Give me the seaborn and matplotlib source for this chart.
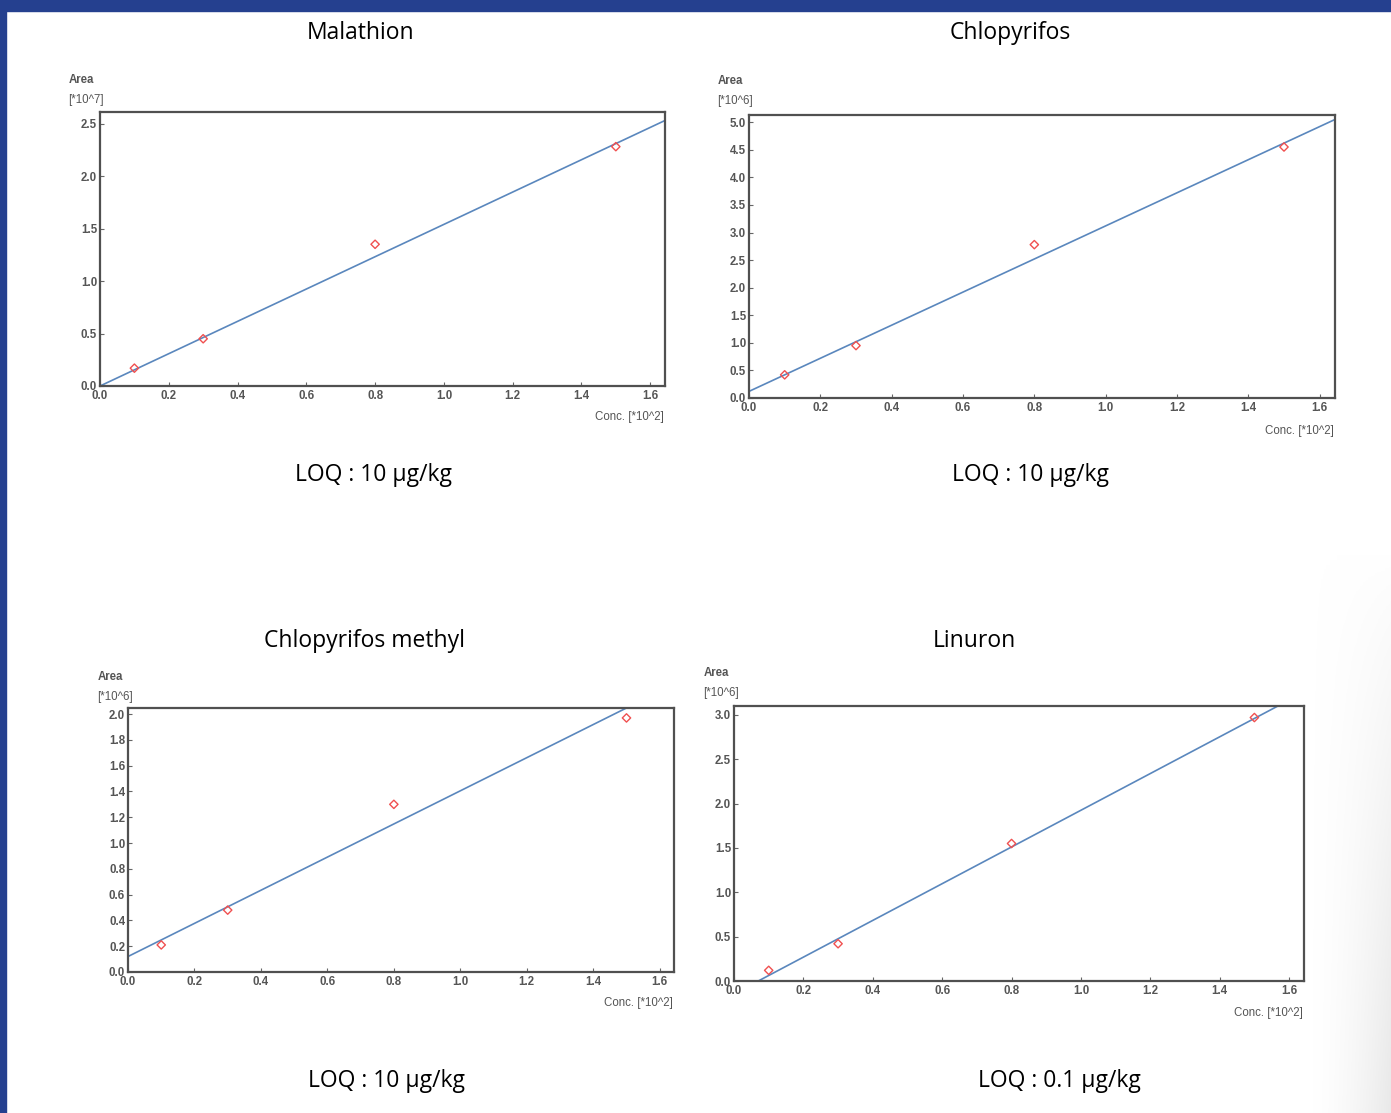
import numpy as np
import pandas as pd
import seaborn as sns
import matplotlib
matplotlib.use("Agg")
import matplotlib.pyplot as plt
from matplotlib.patches import Rectangle
from matplotlib.colors import LinearSegmentedColormap

sns.set_style("ticks")
plt.rcParams['font.family'] = ['Open Sans', 'DejaVu Sans']

W, H = 1391, 1113

# data (conc in 10^2, area in the scale shown)
conc = [0.1, 0.3, 0.8, 1.5]
mal_area = [0.17, 0.45, 1.35, 2.28]
chl_area = [0.42, 0.95, 2.78, 4.55]
chm_area = [0.21, 0.48, 1.30, 1.97]
lin_area = [0.12, 0.42, 1.55, 2.97]

# calibration line end points
mal_fit_x, mal_fit_y = [0.0, 1.65], [0.0, 2.54]
chl_fit_x, chl_fit_y = [0.0, 1.65], [0.12, 5.07]
chm_fit_x, chm_fit_y = [0.0, 1.65], [0.12, 2.24]
lin_fit_x, lin_fit_y = [0.07, 1.65], [0.0, 3.27]

titles = ["Malathion", "Chlopyrifos", "Chlopyrifos methyl", "Linuron"]
loq = ["LOQ : 10 µg/kg", "LOQ : 10 µg/kg", "LOQ : 10 µg/kg", "LOQ : 0.1 µg/kg"]
y_units = ["[*10^7]", "[*10^6]", "[*10^6]", "[*10^6]"]
y_ticks = [np.arange(0, 2.51, 0.5), np.arange(0, 5.01, 0.5),
           np.arange(0, 2.01, 0.2), np.arange(0, 3.01, 0.5)]
x_ticks = np.arange(0, 1.61, 0.2)

panels = [
    dict(box=(100, 112, 665, 386), ylim=2.61, pts=mal_area, fx=mal_fit_x, fy=mal_fit_y,
         title=(361, 33), loq=(374, 475), area=(69, 80), conc_y=417),
    dict(box=(749, 115, 1335, 398), ylim=5.13, pts=chl_area, fx=chl_fit_x, fy=chl_fit_y,
         title=(1010, 33), loq=(1031, 475), area=(718, 81), conc_y=431),
    dict(box=(128, 708, 674, 972), ylim=2.047, pts=chm_area, fx=chm_fit_x, fy=chm_fit_y,
         title=(365, 641), loq=(386, 1081), area=(98, 677), conc_y=1003),
    dict(box=(734, 706, 1304, 981), ylim=3.1, pts=lin_area, fx=lin_fit_x, fy=lin_fit_y,
         title=(974, 641), loq=(1059, 1081), area=(704, 673), conc_y=1013),
]

fig = plt.figure(figsize=(W / 100, H / 100), dpi=100)
fig.patch.set_facecolor("white")

# very faint grey shading at the lower right corner of the slide
bg = fig.add_axes([1310 / W, 0, 81 / W, 560 / H], zorder=-5)
gx = np.linspace(0, 1, 80)[None, :] ** 1.6
gy = np.linspace(0, 1, 120)[:, None] ** 0.8
shade = LinearSegmentedColormap.from_list("shade", ["#ffffff", "#e9e9e9"])
bg.imshow(gx * gy, cmap=shade, aspect="auto", extent=(0, 1, 0, 1), vmin=0, vmax=1)
bg.axis("off")

fig.patches.append(Rectangle((0, 1 - 11 / H), 1, 11 / H, transform=fig.transFigure,
                             color="#25408f", zorder=10))
fig.patches.append(Rectangle((0, 0), 6 / W, 1, transform=fig.transFigure,
                             color="#25408f", zorder=10))

def fx(px):
    return px / W

def fy(py):
    return 1 - py / H

tick_col = "#555555"
small = 8.3
for i, p in enumerate(panels):
    l, t, r, b = p["box"]
    ax = fig.add_axes([fx(l), fy(b), (r - l) / W, (b - t) / H])
    df = pd.DataFrame({"conc": conc, "area": p["pts"]})
    fit = pd.DataFrame({"conc": p["fx"], "area": p["fy"]})
    sns.lineplot(data=fit, x="conc", y="area", ax=ax, color="#5a87bd", lw=1.2)
    sns.scatterplot(data=df, x="conc", y="area", ax=ax, marker="D", s=18,
                    facecolor="none", edgecolor="#f05050", linewidth=1.0, zorder=5)
    ax.set_xlim(0, 1.643)
    ax.set_ylim(0, p["ylim"])
    ax.set_xticks(x_ticks)
    ax.set_yticks(y_ticks[i])
    ax.set_xticklabels([f"{v:.1f}" for v in x_ticks])
    ax.set_yticklabels([f"{v:.1f}" for v in y_ticks[i]])
    ax.tick_params(direction="in", length=3, width=0.8, labelsize=small,
                   colors="#666666", labelcolor=tick_col)
    ax.tick_params(axis="x", pad=3)
    ax.tick_params(axis="y", pad=2)
    for s in ax.spines.values():
        s.set_color("#505050")
        s.set_linewidth(1.6)
    ax.set_xlabel("")
    ax.set_ylabel("")
    for lab in ax.get_xticklabels() + ax.get_yticklabels():
        lab.set_family("Liberation Sans")
        lab.set_fontweight("bold")

    fig.text(fx(p["title"][0]), fy(p["title"][1]), titles[i], ha="center", va="center",
             fontsize=16.5, color="black")
    fig.text(fx(p["loq"][0]), fy(p["loq"][1]), loq[i], ha="center", va="center",
             fontsize=16.5, color="black")
    fig.text(fx(p["area"][0]), fy(p["area"][1]), "Area", ha="left", va="center",
             fontsize=small, color=tick_col, family="Liberation Sans", fontweight="bold")
    fig.text(fx(p["area"][0] - 1), fy(p["area"][1] + 20), y_units[i], ha="left", va="center",
             fontsize=small, color=tick_col, family="Liberation Sans")
    fig.text(fx(r - 1), fy(p["conc_y"]), "Conc. [*10^2]", ha="right", va="center",
             fontsize=small, color=tick_col, family="Liberation Sans")

fig.savefig("out.png", dpi=100)
